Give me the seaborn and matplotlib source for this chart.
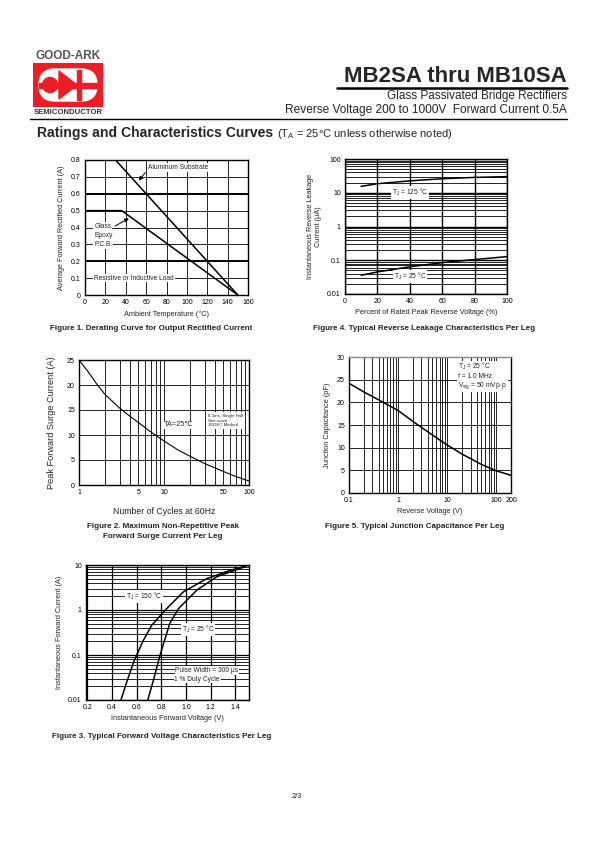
import numpy as np
import pandas as pd
import matplotlib
matplotlib.use("Agg")
import matplotlib.pyplot as plt
import seaborn as sns
from matplotlib.patches import Rectangle, FancyBboxPatch, Polygon, Circle

# Figure 1 - derating curve
f1_temp_al = [0, 30, 150]
f1_cur_al = [0.8, 0.8, 0.0]
f1_temp_gl = [0, 36, 150]
f1_cur_gl = [0.5, 0.5, 0.0]

# Figure 2 - surge current
f2_cycles = [1, 1.3, 1.6, 2, 3, 4, 5, 7, 10, 15, 20, 30, 50, 70, 100]
f2_amps = [25, 22.5, 20.3, 18.2, 15.4, 13.7, 12.5, 10.6, 8.8, 6.9, 5.8, 4.3, 2.7, 1.7, 0.8]

# Figure 3 - forward voltage
f3_v_150 = [0.473, 0.52, 0.576, 0.65, 0.72, 0.832, 0.98, 1.17, 1.35, 1.51]
f3_i_150 = [0.01, 0.025, 0.07, 0.2, 0.45, 1.0, 2.55, 5.0, 7.5, 10]
f3_v_25 = [0.69, 0.74, 0.79, 0.868, 0.94, 1.09, 1.25, 1.48]
f3_i_25 = [0.01, 0.03, 0.1, 0.5, 1.08, 2.8, 5.5, 9.2]

# Figure 4 - reverse leakage
f4_pct = [10, 20, 40, 60, 80, 100]
f4_i_125 = [15.5, 18.5, 22.5, 26, 28.5, 30]
f4_i_25 = [0.036, 0.045, 0.064, 0.085, 0.105, 0.128]

# Figure 5 - junction capacitance
f5_volt = [0.1, 0.2, 0.5, 1, 2, 5, 10, 20, 50, 100, 200]
f5_cap = [24.2, 22.3, 20.0, 18.2, 15.8, 12.8, 10.6, 8.6, 6.3, 4.9, 3.9]

sns.set_theme(style="white")
plt.rcParams['font.family'] = ['Liberation Sans', 'DejaVu Sans']
plt.rcParams['axes.linewidth'] = 1.0

W, H = 595, 842
fig = plt.figure(figsize=(W / 100, H / 100), dpi=100)


def rect(l, t, r, b):
    return [l / W, 1 - b / H, (r - l) / W, (b - t) / H]


def ftext(x, y, s, **kw):
    fig.text(x / W, 1 - y / H, s, **kw)


def style_ax(ax, fs=5):
    for sp in ax.spines.values():
        sp.set_color('black')
        sp.set_linewidth(1.0)
    ax.tick_params(which='both', length=0, labelsize=fs, colors='black', pad=3)
    ax.set_facecolor('white')


WB = dict(fc='white', ec='none', pad=0.6)
CAP = 5.8

# ---------------- header ----------------
ftext(68, 56, "GOOD-ARK", fontsize=8.5, fontweight='bold', color='#555555',
      ha='center', va='center')
lg = fig.add_axes(rect(33, 63, 103, 107))
lg.set_xlim(0, 70)
lg.set_ylim(44, 0)
lg.axis('off')
lg.add_patch(Rectangle((0, 0), 70, 44, color='#ee1c24'))
lg.add_patch(FancyBboxPatch((6, 6), 58, 32, boxstyle="round,pad=0,rounding_size=16",
                            color='white'))
lg.add_patch(Circle((17, 22), 7.5, color='#ee1c24'))
lg.add_patch(Rectangle((6, 19.5), 58, 5, color='#ee1c24'))
lg.add_patch(Polygon([[26, 8], [26, 36], [44, 22]], color='#ee1c24'))
lg.add_patch(Rectangle((44, 7), 3.5, 30, color='#ee1c24'))
ftext(68, 113, "SEMICONDUCTOR", fontsize=5.6, fontweight='bold', color='#333333',
      ha='center', va='center')

ftext(567, 76, "MB2SA thru MB10SA", fontsize=16, fontweight='bold', ha='right', va='center')
fig.add_artist(plt.Line2D([337 / W, 567 / W], [1 - 88 / H, 1 - 88 / H], color='black', lw=1.8))
ftext(567, 96, "Glass Passivated Bridge Rectifiers", fontsize=8.5, ha='right', va='center')
ftext(567, 110, "Reverse Voltage 200 to 1000V  Forward Current 0.5A", fontsize=8.6,
      ha='right', va='center')
fig.add_artist(plt.Line2D([30 / W, 567 / W], [1 - 118.5 / H, 1 - 118.5 / H], color='black', lw=1.0))
ftext(37, 133, "Ratings and Characteristics Curves", fontsize=10.1, fontweight='bold',
      va='center')
ftext(277, 134, r"(T$_\mathregular{A}$ = 25°C unless otherwise noted)", fontsize=8.0, va='center')

# ---------------- Figure 1 ----------------
ax1 = fig.add_axes(rect(85, 160, 248, 295))
d1 = pd.concat([
    pd.DataFrame({'t': f1_temp_al, 'i': f1_cur_al, 's': 'Aluminum Substrate'}),
    pd.DataFrame({'t': f1_temp_gl, 'i': f1_cur_gl, 's': 'Glass Epoxy'}),
])
sns.lineplot(data=d1, x='t', y='i', units='s', estimator=None, sort=False,
             color='black', lw=1.1, ax=ax1, legend=False)
ax1.set_xlim(0, 160)
ax1.set_ylim(0, 0.8)
ax1.set_xticks(np.arange(0, 161, 20))
ax1.set_yticks(np.arange(0, 0.81, 0.1))
ax1.set_yticklabels(['0', '0.1', '0.2', '0.3', '0.4', '0.5', '0.6', '0.7', '0.8'])
ax1.grid(True, color='black', lw=0.6)
for yv in (0.2, 0.6):
    ax1.axhline(yv, color='black', lw=1.4)
style_ax(ax1)
ax1.set_xlabel("Ambient Temperature (°C)", fontsize=5.3, labelpad=3)
ax1.set_ylabel("Average Forward Rectified Current (A)", fontsize=5.3, labelpad=4)
ax1.text(62, 0.755, "Aluminum Substrate", fontsize=4.8, va='center', bbox=WB)
ax1.annotate("", xy=(51, 0.665), xytext=(61, 0.738),
             arrowprops=dict(arrowstyle='-|>', color='black', lw=0.7, mutation_scale=6))
ax1.text(9, 0.407, "Glass", fontsize=4.8, va='center', bbox=WB)
ax1.text(9, 0.353, "Epoxy", fontsize=4.8, va='center', bbox=WB)
ax1.text(9, 0.300, "P.C.B.", fontsize=4.8, va='center', bbox=WB)
ax1.annotate("", xy=(45.5, 0.462), xytext=(27, 0.40),
             arrowprops=dict(arrowstyle='-|>', color='black', lw=0.7, mutation_scale=6))
ax1.text(9, 0.1, "Resistive or Inductive Load", fontsize=4.8, va='center', bbox=WB)
ftext(50, 328, "Figure 1. Derating Curve for Output Rectified Current", fontsize=CAP,
      fontweight='bold', va='center')

# ---------------- Figure 4 ----------------
ax4 = fig.add_axes(rect(345, 159, 507, 294))
d4 = pd.concat([
    pd.DataFrame({'p': f4_pct, 'i': f4_i_125, 's': '125'}),
    pd.DataFrame({'p': f4_pct, 'i': f4_i_25, 's': '25'}),
])
sns.lineplot(data=d4, x='p', y='i', units='s', estimator=None, sort=False,
             color='black', lw=1.1, ax=ax4, legend=False)
ax4.set_yscale('log')
ax4.set_xlim(0, 100)
ax4.set_ylim(0.01, 100)
ax4.set_xticks(np.arange(0, 101, 20))
ax4.set_yticks([0.01, 0.1, 1, 10, 100])
ax4.set_yticklabels(['0.01', '0.1', '1', '10', '100'])
ax4.yaxis.set_minor_locator(matplotlib.ticker.LogLocator(base=10, subs=np.arange(2, 10)))
ax4.yaxis.set_minor_formatter(matplotlib.ticker.NullFormatter())
ax4.grid(True, which='major', color='black', lw=1.0)
ax4.grid(True, which='minor', axis='y', color='black', lw=0.6)
style_ax(ax4)
ax4.set_xlabel("Percent of Rated Peak Reverse Voltage (%)", fontsize=5.3, labelpad=3)
ax4.set_ylabel("Instantaneous Reverse Leakage\nCurrent (μA)", fontsize=5.3, labelpad=4,
               linespacing=1.1)
ax4.text(40, 10.2, r"T$_\mathregular{J}$ = 125 °C", fontsize=4.8, ha='center', va='center', bbox=WB)
ax4.text(40, 0.033, r"T$_\mathregular{J}$ = 25 °C", fontsize=4.8, ha='center', va='center', bbox=WB)
ftext(313, 328, "Figure 4. Typical Reverse Leakage Characteristics Per Leg", fontsize=CAP,
      fontweight='bold', va='center')

# ---------------- Figure 2 ----------------
ax2 = fig.add_axes(rect(79, 360, 249, 485))
sns.lineplot(x=f2_cycles, y=f2_amps, color='black', lw=0.8, ax=ax2, sort=False)
ax2.set_xscale('log')
ax2.set_xlim(1, 100)
ax2.set_ylim(0, 25)
ax2.set_xticks([1, 5, 10, 50, 100])
ax2.set_xticklabels(['1', '5', '10', '50', '100'])
ax2.xaxis.set_minor_locator(matplotlib.ticker.LogLocator(base=10, subs=np.arange(2, 10)))
ax2.xaxis.set_minor_formatter(matplotlib.ticker.NullFormatter())
ax2.set_yticks(np.arange(0, 26, 5))
ax2.grid(True, which='both', color='black', lw=0.6)
style_ax(ax2)
ax2.set_xlabel("Number of Cycles at 60Hz", fontsize=6.3, labelpad=8)
ax2.set_ylabel("Peak Forward Surge Current (A)", fontsize=6.6, labelpad=8)
ax2.text(14.8, 12, "TA=25℃", fontsize=5.3, ha='center', va='center', bbox=WB)
ax2.text(33, 12.9, "8.3ms, Single Half\nSine-wave\nJEDEC Method", fontsize=3.2,
         va='center', linespacing=1.3, bbox=dict(fc='white', ec='none', pad=1))
ftext(163, 527, "Figure 2. Maximum Non-Repetitive Peak", fontsize=CAP,
      fontweight='bold', ha='center', va='center')
ftext(163, 537, "Forward Surge Current Per Leg", fontsize=CAP,
      fontweight='bold', ha='center', va='center')

# ---------------- Figure 5 ----------------
ax5 = fig.add_axes(rect(349, 357, 511, 493))
sns.lineplot(x=f5_volt, y=f5_cap, color='black', lw=1.1, ax=ax5, sort=False)
ax5.set_xscale('log')
ax5.set_xlim(0.1, 200)
ax5.set_ylim(0, 30)
ax5.set_xticks([0.1, 1, 10, 100, 200])
ax5.set_xticklabels(['0.1', '1', '10', '100', '200'])
ax5.xaxis.set_minor_locator(matplotlib.ticker.LogLocator(base=10, subs=np.arange(2, 10)))
ax5.xaxis.set_minor_formatter(matplotlib.ticker.NullFormatter())
ax5.set_yticks(np.arange(0, 31, 5))
ax5.grid(True, which='both', color='black', lw=0.6)
style_ax(ax5)
ax5.spines['top'].set_color('#888888')
ax5.set_xlabel("Reverse Voltage (V)", fontsize=5.3, labelpad=3)
ax5.set_ylabel("Junction Capacitance (pF)", fontsize=5.3, labelpad=4)
ax5.text(17, 25.8, "T$_\\mathregular{J}$ = 25 °C\nf = 1.0 MHz\nV$_\\mathregular{sig}$ = 50 mVp-p",
         fontsize=4.8, va='center', linespacing=1.1, bbox=dict(fc='white', ec='none', pad=0.8))
ftext(325, 527, "Figure 5. Typical Junction Capacitance Per Leg", fontsize=CAP,
      fontweight='bold', va='center')

# ---------------- Figure 3 ----------------
ax3 = fig.add_axes(rect(86, 565, 249, 700))
d3 = pd.concat([
    pd.DataFrame({'v': f3_v_150, 'i': f3_i_150, 's': '150'}),
    pd.DataFrame({'v': f3_v_25, 'i': f3_i_25, 's': '25'}),
])
sns.lineplot(data=d3, x='v', y='i', units='s', estimator=None, sort=False,
             color='black', lw=1.1, ax=ax3, legend=False)
ax3.set_yscale('log')
ax3.set_xlim(0.19, 1.51)
ax3.set_ylim(0.01, 10)
ax3.set_xticks([0.2, 0.4, 0.6, 0.8, 1.0, 1.2, 1.4])
ax3.set_xticklabels(['0.2', '0.4', '0.6', '0.8', '1.0', '1.2', '1.4'])
ax3.set_yticks([0.01, 0.1, 1, 10])
ax3.set_yticklabels(['0.01', '0.1', '1', '10'])
ax3.yaxis.set_minor_locator(matplotlib.ticker.LogLocator(base=10, subs=np.arange(2, 10)))
ax3.yaxis.set_minor_formatter(matplotlib.ticker.NullFormatter())
ax3.grid(True, which='major', color='black', lw=0.9)
ax3.grid(True, which='minor', axis='y', color='black', lw=0.6)
style_ax(ax3)
ax3.set_xlabel("Instantaneous Forward Voltage (V)", fontsize=5.3, labelpad=3)
ax3.set_ylabel("Instantaneous Forward Current (A)", fontsize=5.3, labelpad=4)
ax3.text(0.66, 2.0, r"T$_\mathregular{J}$ = 150 °C", fontsize=4.8, ha='center', va='center', bbox=WB)
ax3.text(1.1, 0.37, r"T$_\mathregular{J}$ = 25 °C", fontsize=4.8, ha='center', va='center', bbox=WB)
ax3.text(1.17, 0.045, "Pulse Width = 300 μs", fontsize=4.8, ha='center', va='center', bbox=WB)
ax3.text(1.09, 0.029, "1 % Duty Cycle", fontsize=4.8, ha='center', va='center', bbox=WB)
ftext(52, 737, "Figure 3. Typical Forward Voltage Characteristics Per Leg", fontsize=CAP,
      fontweight='bold', va='center')

ftext(297, 797, "2/3", fontsize=5.3, ha='center', va='center')

fig.savefig("out.png", dpi=100, facecolor='white')
